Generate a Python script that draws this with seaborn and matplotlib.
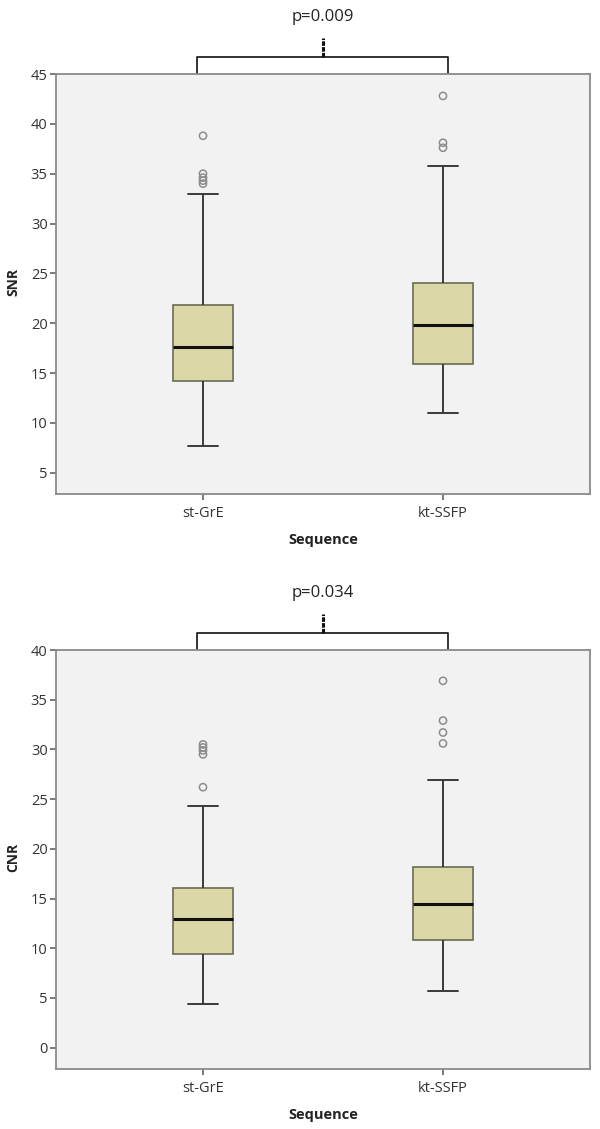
import matplotlib
matplotlib.use("Agg")
import matplotlib.pyplot as plt
import matplotlib.transforms as mtransforms
import seaborn as sns
import pandas as pd

# ---------------- data ----------------
categories = ["st-GrE", "kt-SSFP"]
# five-number summaries: lower whisker, Q1, median, Q3, upper whisker
snr_st = [7.7, 14.15, 17.6, 21.8, 33.0]
snr_kt = [11.0, 15.9, 19.8, 24.05, 35.8]
snr_out_st = [38.8, 35.0, 34.6, 34.3, 34.0]
snr_out_kt = [42.8, 38.1, 37.6]

cnr_st = [4.4, 9.45, 12.9, 16.06, 24.3]
cnr_kt = [5.7, 10.8, 14.4, 18.2, 26.9]
cnr_out_st = [30.5, 30.2, 29.9, 29.5, 26.2]
cnr_out_kt = [36.9, 32.9, 31.7, 30.6]

y_labels = ["SNR", "CNR"]
p_values = ["p=0.009", "p=0.034"]
y_ticks_snr = [5, 10, 15, 20, 25, 30, 35, 40, 45]
y_ticks_cnr = [0, 5, 10, 15, 20, 25, 30, 35, 40]

sns.set_style("ticks")
plt.rcParams["font.family"] = ["Open Sans", "DejaVu Sans"]

W, H = 600, 1129
fig = plt.figure(figsize=(W / 100, H / 100), dpi=100)
fig.patch.set_facecolor("white")

panels = [
    dict(summary=(snr_st, snr_kt), outl=(snr_out_st, snr_out_kt), ylabel=y_labels[0],
         p=p_values[0], ticks=y_ticks_snr, ylim=(2.86, 45.0), top=74, bottom=494),
    dict(summary=(cnr_st, cnr_kt), outl=(cnr_out_st, cnr_out_kt), ylabel=y_labels[1],
         p=p_values[1], ticks=y_ticks_cnr, ylim=(-2.15, 40.0), top=650, bottom=1069),
]

left_px, right_px = 56, 590
box_fill = "#dcd7a7"
frame_col = "#8a8a8a"

for pan in panels:
    ax_h = pan["bottom"] - pan["top"]
    ax = fig.add_axes([left_px / W, (H - pan["bottom"]) / H,
                       (right_px - left_px) / W, ax_h / H])
    ax.set_facecolor("#f2f2f2")

    box_df = pd.DataFrame({
        "Sequence": [categories[0]] * len(pan["summary"][0]) + [categories[1]] * len(pan["summary"][1]),
        "value": list(pan["summary"][0]) + list(pan["summary"][1]),
    })
    out_df = pd.DataFrame({
        "Sequence": [categories[0]] * len(pan["outl"][0]) + [categories[1]] * len(pan["outl"][1]),
        "value": list(pan["outl"][0]) + list(pan["outl"][1]),
    })

    sns.boxplot(data=box_df, x="Sequence", y="value", order=categories, ax=ax,
                whis=(0, 100), width=0.254, color=box_fill, saturation=1,
                linewidth=1.3, fliersize=0,
                boxprops=dict(facecolor=box_fill, edgecolor="#6b6b55", linewidth=1.2),
                whiskerprops=dict(color="#3a3a3a", linewidth=1.4),
                capprops=dict(color="#3a3a3a", linewidth=1.4),
                medianprops=dict(color="#111111", linewidth=2.2))

    sns.stripplot(data=out_df, x="Sequence", y="value", order=categories, ax=ax,
                  jitter=False, size=5.2, marker="o", color="#8c8c8c",
                  linewidth=1.1, edgecolor="#8c8c8c")
    for coll in ax.collections:
        coll.set_facecolor("none")
        coll.set_edgecolor("#8c8c8c")
        coll.set_linewidth(1.1)

    ax.set_xlim(-0.6125, 1.6125)
    ax.set_ylim(*pan["ylim"])
    ax.set_yticks(pan["ticks"])
    ax.set_yticklabels([str(t) for t in pan["ticks"]])

    for sp in ax.spines.values():
        sp.set_visible(True)
        sp.set_color(frame_col)
        sp.set_linewidth(1.3)

    ax.tick_params(axis="both", colors="#555555", labelcolor="#333333",
                   labelsize=10.5, length=4.5, width=1.1, pad=1.5)
    ax.tick_params(axis="x", pad=4)

    ax.set_ylabel(pan["ylabel"], fontsize=10, fontweight="bold", color="#222222")
    ax.yaxis.label.set_va("center")
    ax.yaxis.set_label_coords(-43 / (right_px - left_px), 0.505)
    ax.set_xlabel("Sequence", fontsize=10.5, fontweight="bold", color="#222222")
    ax.xaxis.label.set_va("center")
    ax.xaxis.set_label_coords(0.5, -46 / ax_h)

    # significance bracket above the plot
    tr = mtransforms.blended_transform_factory(ax.transData, ax.transAxes)
    yb = 1 + 17 / ax_h
    ax.plot([-0.026, -0.026, 1.02, 1.02], [1.0, yb, yb, 1.0], transform=tr,
            color="#111111", linewidth=1.2, clip_on=False, solid_capstyle="butt")
    ax.plot([0.5, 0.5], [yb, 1 + 36 / ax_h], transform=tr, color="#111111",
            linewidth=2.2, linestyle=(0, (1.5, 0.4)), clip_on=False)
    ax.text(0.5, 1 + 57 / ax_h, pan["p"], transform=tr, ha="center", va="center",
            fontsize=12, color="#222222")

fig.savefig("out.png", dpi=100)
